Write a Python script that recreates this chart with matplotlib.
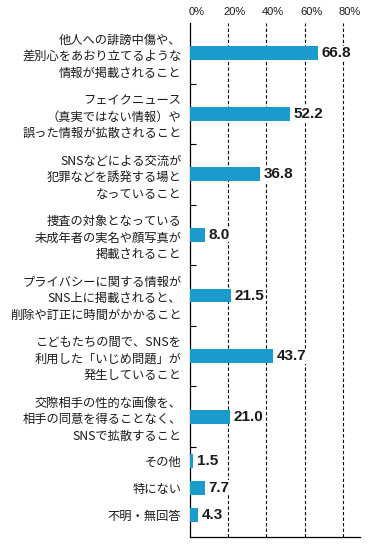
import matplotlib.pyplot as plt
import matplotlib.transforms as mtransforms

# categories (top to bottom) and percentages
categories = [
    "他人への誹謗中傷や、\n差別心をあおり立てるような\n情報が掲載されること",
    "フェイクニュース\n（真実ではない情報）や\n誤った情報が拡散されること",
    "SNSなどによる交流が\n犯罪などを誘発する場と\nなっていること",
    "捜査の対象となっている\n未成年者の実名や顔写真が\n掲載されること",
    "プライバシーに関する情報が\nSNS上に掲載されると、\n削除や訂正に時間がかかること",
    "こどもたちの間で、SNSを\n利用した「いじめ問題」が\n発生していること",
    "交際相手の性的な画像を、\n相手の同意を得ることなく、\nSNSで拡散すること",
    "その他",
    "特にない",
    "不明・無回答",
]
values = [66.8, 52.2, 36.8, 8.0, 21.5, 43.7, 21.0, 1.5, 7.7, 4.3]
xticks = [0, 20, 40, 60, 80]
xtick_labels = ["0%", "20%", "40%", "60%", "80%"]

plt.rcParams['font.family'] = ['Noto Sans CJK JP', 'DejaVu Sans']

fig = plt.figure(figsize=(3.73, 5.47), dpi=100)
ax = fig.add_axes([0.509, 0.018, 0.456, 0.94])

# slot layout: multi-line labels get a tall slot, single-line a short one
centers = []
bounds = []
pos = 0.0
for c in categories:
    h = 1.0 if "\n" in c else 0.45
    centers.append(pos + h / 2)
    pos += h
    if "\n" in c:
        bounds.append(pos)
total = pos + 0.14

ax.barh(centers, values, height=0.23, color='#1a9bcb', zorder=3)
for y, v in zip(centers, values):
    ax.text(v + 2, y, f"{v:.1f}", va='center', ha='left', fontsize=11,
            fontweight='bold', family='Liberation Sans', color='#1a1a1a', zorder=4,
            bbox=dict(facecolor='white', edgecolor='none', pad=0.3))

ax.set_xlim(0, 89)
ax.set_ylim(total, 0)

ax.set_yticks(centers)
ax.set_yticklabels(categories, fontsize=8.8, linespacing=1.35, color='#1a1a1a')
ax.set_yticks(bounds, minor=True)
ax.tick_params(axis='y', which='major', length=0, pad=6)
ax.tick_params(axis='y', which='minor', length=4, direction='in', width=0.8)

ax.xaxis.tick_top()
ax.set_xticks(xticks)
ax.set_xticklabels(xtick_labels, fontsize=8, family='Liberation Sans', color='#1a1a1a')
ax.tick_params(axis='x', length=0, pad=4)
offset = mtransforms.ScaledTranslation(5 / 72, 0, fig.dpi_scale_trans)
for lab in ax.get_xticklabels():
    lab.set_transform(lab.get_transform() + offset)

for x in xticks[1:]:
    ax.axvline(x, color='black', lw=0.8, linestyle=(0, (3, 2)), zorder=1)

ax.spines['top'].set_visible(False)
ax.spines['right'].set_visible(False)
ax.spines['left'].set_linewidth(0.9)
ax.spines['bottom'].set_linewidth(0.9)

fig.savefig("out.png", dpi=100)
